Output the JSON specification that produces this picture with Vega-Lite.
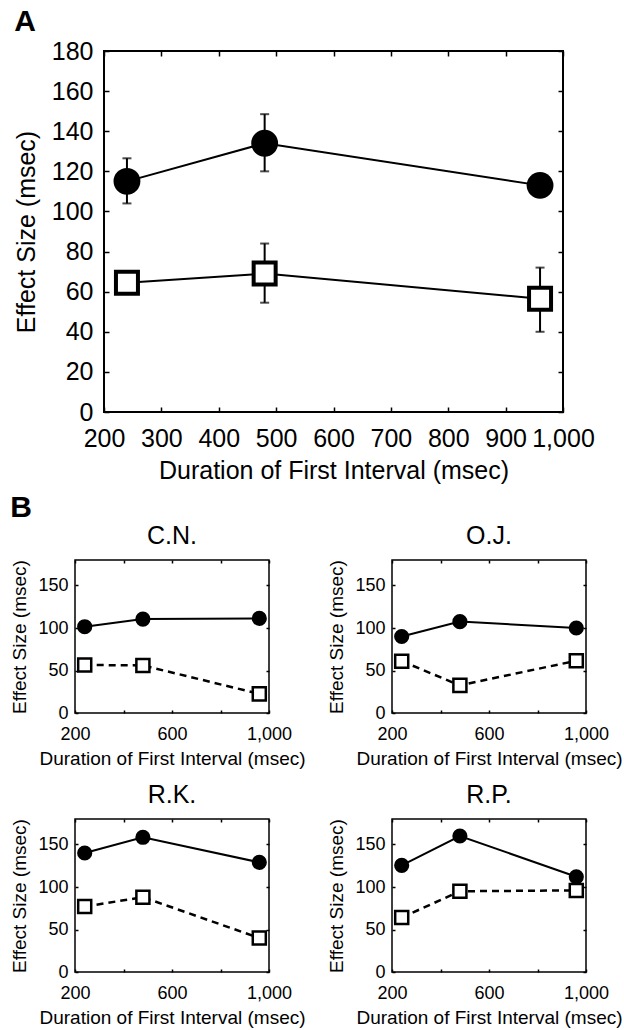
{
  "$schema": "https://vega.github.io/schema/vega-lite/v6.json",
  "padding": {"left": 10, "top": 6, "right": 0, "bottom": 0},
  "background": "white",
  "config": {
    "font": "Liberation Sans",
    "view": {"stroke": "black", "strokeWidth": 1.5},
    "axis": {"domain": false, "grid": false, "labelColor": "black", "titleColor": "black", "tickColor": "black", "titleFontWeight": "normal", "labelFlush": false, "labelOverlap": false, "labelBound": false, "tickWidth": 1.5},
    "title": {"color": "black", "fontWeight": "bold", "fontSize": 30, "anchor": "start", "frame": "bounds"}
  },
  "datasets": {
    "a": [
      {"cond": "filled", "dur": 240, "effect": 115},
      {"cond": "filled", "dur": 480, "effect": 134},
      {"cond": "filled", "dur": 960, "effect": 113},
      {"cond": "open", "dur": 240, "effect": 64.5},
      {"cond": "open", "dur": 480, "effect": 69},
      {"cond": "open", "dur": 960, "effect": 56.5}
    ],
    "aerr": [
      {"cond": "filled", "dur": 240, "lo": 104, "hi": 126.5},
      {"cond": "filled", "dur": 480, "lo": 120, "hi": 148.5},
      {"cond": "open", "dur": 480, "lo": 54.5, "hi": 84},
      {"cond": "open", "dur": 960, "lo": 40, "hi": 72}
    ],
    "b": [
      {"subject": "C.N.", "cond": "filled", "dur": 240, "effect": 101.5},
      {"subject": "C.N.", "cond": "filled", "dur": 480, "effect": 110.5},
      {"subject": "C.N.", "cond": "filled", "dur": 960, "effect": 111.3},
      {"subject": "C.N.", "cond": "open", "dur": 240, "effect": 56.5},
      {"subject": "C.N.", "cond": "open", "dur": 480, "effect": 56},
      {"subject": "C.N.", "cond": "open", "dur": 960, "effect": 22.5},
      {"subject": "O.J.", "cond": "filled", "dur": 240, "effect": 90},
      {"subject": "O.J.", "cond": "filled", "dur": 480, "effect": 107.5},
      {"subject": "O.J.", "cond": "filled", "dur": 960, "effect": 100},
      {"subject": "O.J.", "cond": "open", "dur": 240, "effect": 61},
      {"subject": "O.J.", "cond": "open", "dur": 480, "effect": 32.5},
      {"subject": "O.J.", "cond": "open", "dur": 960, "effect": 61.5},
      {"subject": "R.K.", "cond": "filled", "dur": 240, "effect": 140},
      {"subject": "R.K.", "cond": "filled", "dur": 480, "effect": 158.5},
      {"subject": "R.K.", "cond": "filled", "dur": 960, "effect": 129},
      {"subject": "R.K.", "cond": "open", "dur": 240, "effect": 77},
      {"subject": "R.K.", "cond": "open", "dur": 480, "effect": 88},
      {"subject": "R.K.", "cond": "open", "dur": 960, "effect": 40},
      {"subject": "R.P.", "cond": "filled", "dur": 240, "effect": 125.5},
      {"subject": "R.P.", "cond": "filled", "dur": 480, "effect": 160},
      {"subject": "R.P.", "cond": "filled", "dur": 960, "effect": 112},
      {"subject": "R.P.", "cond": "open", "dur": 240, "effect": 64},
      {"subject": "R.P.", "cond": "open", "dur": 480, "effect": 95},
      {"subject": "R.P.", "cond": "open", "dur": 960, "effect": 96}
    ]
  },
  "spacing": 8,
  "vconcat": [
    {
      "bounds": "flush",
      "spacing": 0,
      "hconcat": [
        {
          "width": 29,
          "height": 361,
          "view": {"stroke": null},
          "data": {"values": [{"v": 0}]},
          "mark": {"type": "text", "text": ""},
          "encoding": {}
        },
        {
          "title": {"text": "A", "offset": 2},
          "width": 459,
          "height": 361,
          "view": {"stroke": "black", "strokeWidth": 2},
          "layer": [
            {
              "data": {"name": "aerr"},
              "mark": {"type": "errorbar", "ticks": {"size": 9, "thickness": 2, "color": "black"}, "rule": {"strokeWidth": 2, "color": "black"}},
              "encoding": {
                "x": {"field": "dur", "type": "quantitative", "scale": {"domain": [200, 1000]}, "axis": null},
                "y": {"field": "lo", "type": "quantitative", "scale": {"domain": [0, 180]}, "axis": null},
                "y2": {"field": "hi"}
              }
            },
            {
              "data": {"name": "a"},
              "mark": {"type": "line", "color": "black", "strokeWidth": 2},
              "encoding": {
                "x": {"field": "dur", "type": "quantitative", "axis": {"orient": "top", "values": [200, 300, 400, 500, 600, 700, 800, 900, 1000], "labels": false, "title": null, "tickSize": -5}},
                "y": {"field": "effect", "type": "quantitative", "axis": {"orient": "right", "values": [0, 20, 40, 60, 80, 100, 120, 140, 160, 180], "labels": false, "title": null, "tickSize": -5}},
                "detail": {"field": "cond"}
              }
            },
            {
              "data": {"name": "a"},
              "transform": [{"filter": "datum.cond == 'filled'"}],
              "mark": {"type": "circle", "size": 720, "color": "black", "opacity": 1},
              "encoding": {
                "x": {"field": "dur", "type": "quantitative", "axis": {"orient": "bottom", "values": [200, 300, 400, 500, 600, 700, 800, 900, 1000], "format": ",.0f", "labelFontSize": 25, "titleFontSize": 25, "title": "Duration of First Interval (msec)", "tickSize": -5, "labelPadding": 19, "titlePadding": 7}},
                "y": {"field": "effect", "type": "quantitative", "axis": {"orient": "left", "values": [0, 20, 40, 60, 80, 100, 120, 140, 160, 180], "labelFontSize": 25, "titleFontSize": 25, "title": "Effect Size (msec)", "tickSize": -5, "labelPadding": 16, "titlePadding": 12}}
              }
            },
            {
              "data": {"name": "a"},
              "transform": [{"filter": "datum.cond == 'open'"}],
              "mark": {"type": "point", "shape": "square", "size": 484, "filled": true, "fill": "white", "stroke": "black", "strokeWidth": 4, "opacity": 1},
              "encoding": {
                "x": {"field": "dur", "type": "quantitative", "axis": null},
                "y": {"field": "effect", "type": "quantitative", "axis": null}
              }
            }
          ],
          "resolve": {"axis": {"x": "independent", "y": "independent"}}
        }
      ]
    },
    {
      "data": {"name": "b"},
      "title": {"text": "B", "offset": 1},
      "facet": {"field": "subject", "type": "nominal", "sort": ["C.N.", "O.J.", "R.K.", "R.P."], "header": {"title": null, "labelFontSize": 25, "labelColor": "black", "labelPadding": 10}},
      "columns": 2,
      "spacing": {"row": 13, "column": 21},
      "spec": {
        "width": 194,
        "height": 153,
        "layer": [
          {
            "transform": [{"filter": "datum.cond == 'filled'"}],
            "mark": {"type": "line", "color": "black", "strokeWidth": 2},
            "encoding": {
              "x": {"field": "dur", "type": "quantitative", "scale": {"domain": [200, 1000]}, "axis": {"orient": "top", "values": [200, 400, 600, 800, 1000], "labels": false, "title": null, "tickSize": -3}},
              "y": {"field": "effect", "type": "quantitative", "scale": {"domain": [0, 180]}, "axis": {"orient": "right", "values": [0, 50, 100, 150], "labels": false, "title": null, "tickSize": -3}}
            }
          },
          {
            "transform": [{"filter": "datum.cond == 'open'"}],
            "mark": {"type": "line", "color": "black", "strokeWidth": 2.5, "strokeDash": [7, 5]},
            "encoding": {
              "x": {"field": "dur", "type": "quantitative", "axis": null},
              "y": {"field": "effect", "type": "quantitative", "axis": null}
            }
          },
          {
            "transform": [{"filter": "datum.cond == 'filled'"}],
            "mark": {"type": "circle", "size": 230, "color": "black", "opacity": 1},
            "encoding": {
              "x": {"field": "dur", "type": "quantitative", "axis": {"orient": "bottom", "values": [200, 400, 600, 800, 1000], "labelExpr": "datum.value % 400 == 200 ? format(datum.value, ',') : ''", "labelFontSize": 18, "titleFontSize": 19, "title": "Duration of First Interval (msec)", "tickSize": -3, "labelPadding": 15, "titlePadding": 6}},
              "y": {"field": "effect", "type": "quantitative", "axis": {"orient": "left", "values": [0, 50, 100, 150], "labelFontSize": 18, "titleFontSize": 19, "title": "Effect Size (msec)", "tickSize": -3, "labelPadding": 10, "titlePadding": 8}}
            }
          },
          {
            "transform": [{"filter": "datum.cond == 'open'"}],
            "mark": {"type": "point", "shape": "square", "size": 170, "filled": true, "fill": "white", "stroke": "black", "strokeWidth": 2.5, "opacity": 1},
            "encoding": {
              "x": {"field": "dur", "type": "quantitative", "axis": null},
              "y": {"field": "effect", "type": "quantitative", "axis": null}
            }
          }
        ],
        "resolve": {"axis": {"x": "independent", "y": "independent"}}
      },
      "resolve": {"axis": {"x": "independent", "y": "independent"}}
    }
  ]
}
